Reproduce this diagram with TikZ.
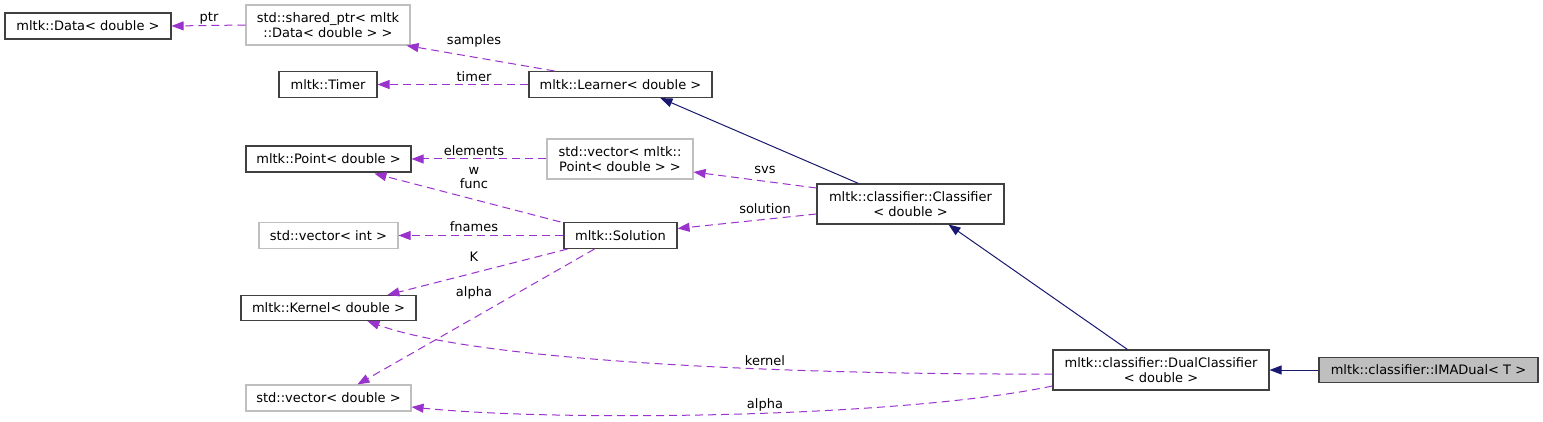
\documentclass[tikz,border=0pt]{standalone}
\usepackage{fontspec}
\setmainfont{DejaVu Sans}
\usetikzlibrary{arrows.meta,calc}
\definecolor{depc}{HTML}{9A32CD}
\definecolor{inhc}{HTML}{191970}
\definecolor{gborder}{HTML}{BFBFBF}
\definecolor{bborder}{HTML}{404040}
\definecolor{selfill}{HTML}{BFBFBF}
\begin{document}
\begin{tikzpicture}[x=1pt,y=-1pt,
  every node/.style={font=\fontsize{13}{15}\selectfont},
  box/.style={draw=bborder, line width=1.1pt, fill=white, inner sep=0pt, align=center},
  gbox/.style={box, draw=gborder},
  selbox/.style={box, fill=selfill},
  depline/.style={draw=depc, line width=1pt, dash pattern=on 8pt off 5pt, -{Triangle[length=12pt,width=9pt]}},
  inhline/.style={draw=inhc, line width=1pt, -{Triangle[length=12pt,width=9pt]}},
  lbl/.style={inner sep=0pt, align=center}]
\useasboundingbox[fill=white] (0,0) rectangle (1543,422);

% nodes
\node[box,  minimum width=166, minimum height=26] (data) at (88,26) {mltk::Data< double >};
\node[gbox, minimum width=164, minimum height=40] (sp) at (328,25) {std::shared\_ptr< mltk\\::Data< double > >};
\node[box,  minimum width=98,  minimum height=26] (timer) at (328,84.5) {mltk::Timer};
\node[box,  minimum width=183, minimum height=26] (learner) at (620.5,84.5) {mltk::Learner< double >};
\node[box,  minimum width=165, minimum height=26] (point) at (328.5,159) {mltk::Point< double >};
\node[gbox, minimum width=146, minimum height=40] (vpoint) at (620,159) {std::vector< mltk::\\Point< double > >};
\node[box,  minimum width=187, minimum height=40] (classifier) at (910.5,204) {mltk::classifier::Classifier\\< double >};
\node[gbox, minimum width=139, minimum height=26] (vint) at (328.5,235.5) {std::vector< int >};
\node[box,  minimum width=113, minimum height=26] (solution) at (620.5,235.5) {mltk::Solution};
\node[box,  minimum width=175, minimum height=25] (kernel) at (328.5,308) {mltk::Kernel< double >};
\node[gbox, minimum width=165, minimum height=26] (vdouble) at (328.5,398) {std::vector< double >};
\node[box,  minimum width=216, minimum height=40] (dual) at (1161,370) {mltk::classifier::DualClassifier\\< double >};
\node[selbox, minimum width=219, minimum height=25] (ima) at (1428.5,370) {mltk::classifier::IMADual< T >};

% dependency connectors
\draw[depline] (sp.west) -- (data.east);
\draw[depline] ($(learner.north west)+(26,0)$) -- ($(sp.south east)+(-4,0)$);
\draw[depline] (learner.west) -- (timer.east);
\draw[depline] ($(classifier.west)+(0,-16)$) -- ($(vpoint.east)+(0,13)$);
\draw[depline] (vpoint.west) -- (point.east);
\draw[depline] ($(solution.north west)+(-3,0)$) -- ($(point.south west)+(129,1)$);
\draw[depline] ($(classifier.west)+(0,10)$) -- ($(solution.east)+(0,-7)$);
\draw[depline] (solution.west) -- (vint.east);
\draw[depline] ($(solution.south west)+(4,0)$) -- ($(kernel.north west)+(147,0)$);
\draw[depline] ($(solution.south west)+(31,0)$) -- ($(vdouble.north west)+(112,0)$);
\draw[depline] ($(dual.west)+(0,4)$) .. controls (800,375) and (480,362) .. ($(kernel.south west)+(127,0)$);
\draw[depline] ($(dual.west)+(0,16)$) .. controls (900,418) and (560,422) .. ($(vdouble.east)+(0,9)$);

% inheritance connectors
\draw[inhline] ($(classifier.north west)+(42,0)$) -- ($(learner.south west)+(132,0)$);
\draw[inhline] ($(dual.north west)+(75,0)$) -- ($(classifier.south west)+(132,0)$);
\draw[inhline] (ima.west) -- (dual.east);

% labels
\node[lbl] (lptr) at (209,18) {ptr};
\node[lbl] (lsamples) at (474,41) {samples};
\node[lbl] (ltimer) at (474,77) {timer};
\node[lbl] (lsvs) at (765,170) {svs};
\node[lbl] (lelements) at (474,151) {elements};
\node[lbl] (lw) at (474,171) {w};
\node[lbl] (lfunc) at (474,184) {func};
\node[lbl] (lsolution) at (765,209) {solution};
\node[lbl] (lfnames) at (474,227) {fnames};
\node[lbl] (lK) at (474,257) {K};
\node[lbl] (lalpha) at (474,293) {alpha};
\node[lbl] (lkernel) at (765,361) {kernel};
\node[lbl] (lalphab) at (765,405) {alpha};
\end{tikzpicture}
\end{document}
